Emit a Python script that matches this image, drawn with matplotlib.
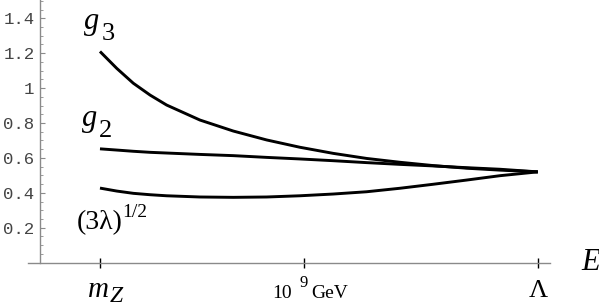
import numpy as np
import matplotlib
matplotlib.use("Agg")
import matplotlib.pyplot as plt
from matplotlib.ticker import MultipleLocator

# log10(E / GeV)
log_E = [1.96, 2.54, 3.11, 3.69, 4.26, 5.41, 6.56, 7.71, 8.86, 10.01,
         11.16, 12.31, 13.46, 14.61, 15.76, 17.07]
g3 = [1.210, 1.113, 1.028, 0.960, 0.903, 0.817, 0.754, 0.703, 0.661, 0.626,
      0.597, 0.575, 0.556, 0.541, 0.530, 0.520]
g2 = [0.652, 0.645, 0.638, 0.632, 0.628, 0.620, 0.613, 0.603, 0.594, 0.584,
      0.573, 0.563, 0.554, 0.544, 0.535, 0.520]
sqrt3lam = [0.427, 0.410, 0.397, 0.389, 0.383, 0.376, 0.374, 0.376, 0.383, 0.393,
            0.406, 0.426, 0.449, 0.473, 0.498, 0.520]

x_ticks = [1.96, 9.0, 17.07]
y_ticks = [0.2, 0.4, 0.6, 0.8, 1.0, 1.2, 1.4]
y_ticklabels = ['0.2', '0.4', '0.6', '0.8', '1', '1.2', '1.4']

W, H = 599, 306
fig = plt.figure(figsize=(W/100, H/100), dpi=100)
ax = fig.add_axes([28/W, (H-262.6)/H, (550-28)/W, 262.6/H])

for s in (g3, g2, sqrt3lam):
    ax.plot(log_E, s, color='black', lw=2.1, solid_capstyle='butt',
            solid_joinstyle='round')

ax.set_xlim(-0.524, 17.49)
ax.set_ylim(0, 1.505)

gray = '#8a8a8a'
for sp in ('top', 'right'):
    ax.spines[sp].set_visible(False)
ax.spines['left'].set_position(('data', -0.11))
ax.spines['left'].set_color(gray)
ax.spines['bottom'].set_color(gray)
ax.spines['left'].set_linewidth(1.0)
ax.spines['bottom'].set_linewidth(1.0)

ax.set_yticks(y_ticks)
ax.set_yticklabels(y_ticklabels, family='Liberation Mono', fontsize=12.5, color='#444444')
ax.yaxis.set_minor_locator(MultipleLocator(0.05))
ax.tick_params(axis='y', which='major', direction='in', length=3.5, width=0.8, color=gray, pad=4)
ax.tick_params(axis='y', which='minor', direction='in', length=2, width=0.6, color=gray)

ax.set_xticks(x_ticks)
ax.set_xticklabels([])
ax.tick_params(axis='x', which='major', direction='inout', length=7, width=1.0, color='black')


def ptext(x, y, s, size, italic=False, ha='left'):
    fig.text(x/W, 1 - y/H, s, fontsize=size, family='Liberation Serif',
             style='italic' if italic else 'normal', ha=ha, va='baseline')

# curve labels
ptext(84, 29, 'g', 22, italic=True)
ptext(102, 40, '3', 19)
ptext(82, 126, 'g', 22, italic=True)
ptext(99, 137, '2', 19)
ptext(77, 229, '(3λ)', 20)
ptext(122, 217, '1/2', 14)

# x tick labels
ptext(88, 297, 'm', 21, italic=True)
ptext(110, 302, 'Z', 17, italic=True)
ptext(272, 298, '10', 14)
ptext(299, 287, '9', 12)
ptext(311, 298, 'GeV', 14)
ptext(538, 297, 'Λ', 19, ha='center')
ptext(581, 270, 'E', 22, italic=True)

fig.savefig('out.png', dpi=100, facecolor='white')
